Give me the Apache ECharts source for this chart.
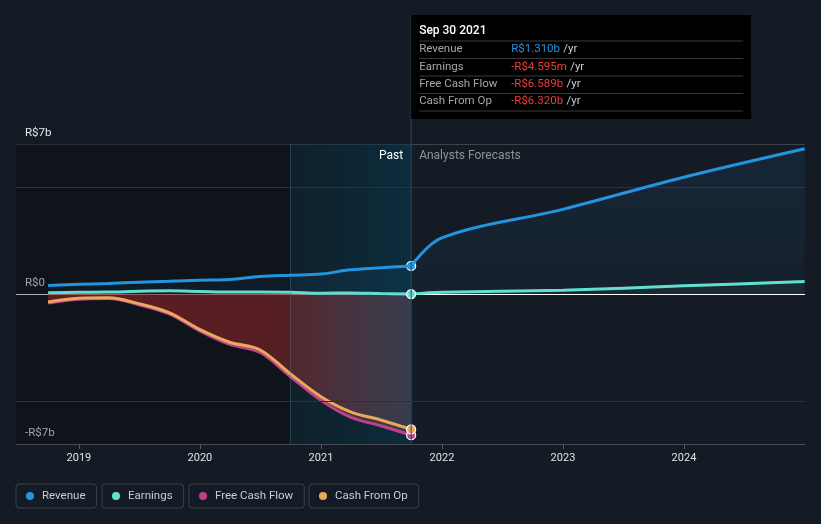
<!DOCTYPE html>
<html><head><meta charset="utf-8">
<script src="https://cdn.jsdelivr.net/npm/echarts@6/dist/echarts.min.js"></script>
<style>html,body{margin:0;padding:0;background:#151b24;}#c{width:821px;height:524px;}</style>
</head><body><div id="c"></div>
<script>
// ---- data (R$ billions) ----
const pastDates = ['2018-09-30','2018-12-31','2019-03-31','2019-06-30','2019-09-30','2019-12-31','2020-03-31','2020-06-30','2020-09-30','2020-12-31','2021-03-31','2021-06-30','2021-09-30'];
const revenuePast  = [0.40,0.45,0.49,0.55,0.59,0.64,0.68,0.82,0.88,0.93,1.13,1.22,1.310];
const earningsPast = [0.06,0.08,0.09,0.13,0.15,0.12,0.09,0.09,0.08,0.04,0.05,0.02,-0.004595];
const fcfPast      = [-0.42,-0.24,-0.21,-0.50,-0.93,-1.72,-2.35,-2.72,-3.85,-4.95,-5.75,-6.15,-6.589];
const cfoPast      = [-0.37,-0.20,-0.18,-0.45,-0.87,-1.65,-2.25,-2.60,-3.72,-4.78,-5.50,-5.88,-6.320];
const forecastDates    = ['2021-09-30','2021-12-31','2022-12-31','2023-12-31','2024-12-31'];
const revenueForecast  = [1.310,2.62,3.95,5.45,6.78];
const earningsForecast = [-0.004595,0.08,0.18,0.38,0.58];
const yTicks = [-7,0,7];
const yGuides = [5,-5];
const xTickYears = [2019,2020,2021,2022,2023,2024];
const highlightStart = '2020-09-30';

const COL = {rev:'#2394df', earn:'#64e3cf', fcf:'#c0408c', cfo:'#e8aa5a'};
function toYear(s){const d=new Date(s+'T00:00:00Z');const y=d.getUTCFullYear();const a=Date.UTC(y,0,1),b=Date.UTC(y+1,0,1);return y+(d-a)/(b-a);}
const pts=(dates,vals)=>dates.map((d,i)=>[toYear(d),vals[i]]);
const xMin=2018.48, xMax=2025.0;
const divX=toYear(pastDates[pastDates.length-1]);
const hlX=toYear(highlightStart);
const last=a=>a[a.length-1];
function fmt(v){const a=Math.abs(v);const s=v<0?'-':'';return a>=1?s+'R$'+a.toFixed(3)+'b':s+'R$'+(a*1000).toFixed(3)+'m';}
function yLab(v){return v===0?'R$0':(v<0?'-R$'+(-v)+'b':'R$'+v+'b');}
const MONTHS=['Jan','Feb','Mar','Apr','May','Jun','Jul','Aug','Sep','Oct','Nov','Dec'];
function dateTitle(s){const d=new Date(s+'T00:00:00Z');return MONTHS[d.getUTCMonth()]+' '+d.getUTCDate()+' '+d.getUTCFullYear();}

const mp=(val,color)=>({symbol:'circle',symbolSize:9,silent:true,label:{show:false},
  itemStyle:{color:color,borderColor:'#ffffff',borderWidth:1.3},data:[{coord:[divX,val]}]});

const chart=echarts.init(document.getElementById('c'),null,{renderer:'canvas'});
const lineBase={type:'line',smooth:0.35,symbol:'none',lineStyle:{width:3},z:3};
function legendBox(name,left){return {data:[name],left:left,top:484,orient:'horizontal',selectedMode:false,
  icon:'circle',itemWidth:14,itemHeight:8,padding:[6,11,6,10],borderColor:'#3c414b',borderWidth:1,borderRadius:3,
  textStyle:{color:'#c9ccd1',fontSize:11.5,fontFamily:'Roboto'}};}

chart.setOption({
  backgroundColor:'#151b24',
  animation:false,
  textStyle:{fontFamily:'Roboto'},
  grid:{left:16,right:16,top:144,bottom:80},
  legend:[legendBox('Revenue',16),legendBox('Earnings',102),legendBox('Free Cash Flow',189),legendBox('Cash From Op',309)],
  xAxis:{type:'value',min:xMin,max:xMax,
    axisLine:{show:true,onZero:false,lineStyle:{color:'#454a54'}},
    axisTick:{show:true,customValues:xTickYears,length:5,lineStyle:{color:'#555a63'}},
    axisLabel:{customValues:xTickYears,formatter:v=>String(Math.round(v)),color:'#dfe1e4',fontSize:11,margin:9},
    splitLine:{show:false}},
  yAxis:{type:'value',min:yTicks[0],max:yTicks[2],interval:7,
    axisLine:{show:false},axisTick:{show:false},
    axisLabel:{inside:true,margin:9,verticalAlign:'bottom',padding:[0,0,5,0],color:'#e6e8eb',fontSize:11.5,
      formatter:yLab,showMinLabel:true,showMaxLabel:true},
    splitLine:{show:true,lineStyle:{color:['#454a54','#ffffff','#3d424b'],width:1}}},
  series:[
    Object.assign({},lineBase,{name:'Free Cash Flow',data:pts(pastDates,fcfPast),color:COL.fcf,z:2,
      lineStyle:{width:3,color:COL.fcf},
      areaStyle:{origin:0,color:new echarts.graphic.LinearGradient(0,0,1,0,[
        {offset:0,color:'rgba(140,36,40,0.88)'},{offset:0.62,color:'rgba(140,36,40,0.82)'},
        {offset:1,color:'rgba(150,95,115,0.45)'}])},
      markArea:{silent:true,data:[
        [{xAxis:xMin,itemStyle:{color:'rgba(4,6,9,0.32)'}},{xAxis:hlX}],
        [{xAxis:hlX,itemStyle:{color:new echarts.graphic.LinearGradient(0,0,1,0,[
          {offset:0,color:'rgba(5,42,54,0.36)'},{offset:1,color:'rgba(6,56,76,0.62)'}])}},{xAxis:divX}]]},
      markLine:{silent:true,symbol:'none',label:{show:false},
        data:[{yAxis:yGuides[0],lineStyle:{color:'#2c323b',type:'solid',width:1}},
              {yAxis:yGuides[1],lineStyle:{color:'#2c323b',type:'solid',width:1}},
              {xAxis:hlX,lineStyle:{color:'rgba(70,130,150,0.35)',type:'solid',width:1}}]},
      markPoint:mp(last(fcfPast),COL.fcf)}),
    Object.assign({},lineBase,{name:'Cash From Op',data:pts(pastDates,cfoPast),color:COL.cfo,z:3,
      lineStyle:{width:3,color:COL.cfo},markPoint:mp(last(cfoPast),COL.cfo)}),
    Object.assign({},lineBase,{name:'Earnings',data:pts(pastDates,earningsPast),color:COL.earn,z:4,
      lineStyle:{width:3,color:COL.earn}}),
    Object.assign({},lineBase,{name:'Earnings',data:pts(forecastDates,earningsForecast),color:COL.earn,z:4,
      lineStyle:{width:3,color:COL.earn},areaStyle:{origin:0,color:'rgba(100,227,207,0.08)'},
      markPoint:mp(last(earningsPast),COL.earn)}),
    Object.assign({},lineBase,{name:'Revenue',data:pts(pastDates,revenuePast),color:COL.rev,z:5,
      lineStyle:{width:3,color:COL.rev},areaStyle:{origin:0,color:'rgba(33,150,243,0.09)'}}),
    Object.assign({},lineBase,{name:'Revenue',data:pts(forecastDates,revenueForecast),color:COL.rev,z:5,
      lineStyle:{width:3,color:COL.rev},
      areaStyle:{origin:0,color:new echarts.graphic.LinearGradient(0,0,0,1,[
        {offset:0,color:'rgba(33,150,243,0.13)'},{offset:1,color:'rgba(33,150,243,0.06)'}])},
      markPoint:mp(last(revenuePast),COL.rev)})
  ]
});

const px=chart.convertToPixel({xAxisIndex:0},divX);
const gTop=144, gBot=444;
const boxX=px, boxY=15, boxW=340, boxH=104;
const rows=[['Revenue',last(revenuePast),'#2394df'],['Earnings',last(earningsPast),'#f03c3c'],
            ['Free Cash Flow',last(fcfPast),'#f03c3c'],['Cash From Op',last(cfoPast),'#f03c3c']];
const g=[
  {type:'line',shape:{x1:px,y1:boxY,x2:px,y2:gBot},style:{stroke:'#2a4b5b',lineWidth:1},z:50},
  {type:'rect',shape:{x:boxX,y:boxY,width:boxW,height:boxH},style:{fill:'#000000'},z:60},
  {type:'text',x:px+8,y:31,style:{text:dateTitle(last(pastDates)),fill:'#ffffff',font:'500 12px Roboto',verticalAlign:'middle'},z:61},
  {type:'text',x:px-8,y:156,style:{text:'Past',fill:'#ffffff',font:'12px Roboto',align:'right',verticalAlign:'middle'},z:61},
  {type:'text',x:px+8,y:156,style:{text:'Analysts Forecasts',fill:'#8e939a',font:'12px Roboto',align:'left',verticalAlign:'middle'},z:61}
];
const seps=[41,58.5,76,93.5,111];
seps.forEach(y=>g.push({type:'line',shape:{x1:px+8,y1:y,x2:px+332,y2:y},style:{stroke:'#3a3a3a',lineWidth:1},z:61}));
rows.forEach((r,i)=>{
  const y=49.5+i*17.3;
  g.push({type:'text',x:px+8,y:y,style:{text:r[0],fill:'#a3a6ab',font:'11.5px Roboto',verticalAlign:'middle'},z:61});
  g.push({type:'text',x:px+100,y:y,style:{text:'{v|'+fmt(r[1])+'} {u|/yr}',verticalAlign:'middle',
    rich:{v:{fill:r[2],font:'11.5px Roboto'},u:{fill:'#c8cacd',font:'11.5px Roboto'}}},z:61});
});
chart.setOption({graphic:g});
</script></body></html>
